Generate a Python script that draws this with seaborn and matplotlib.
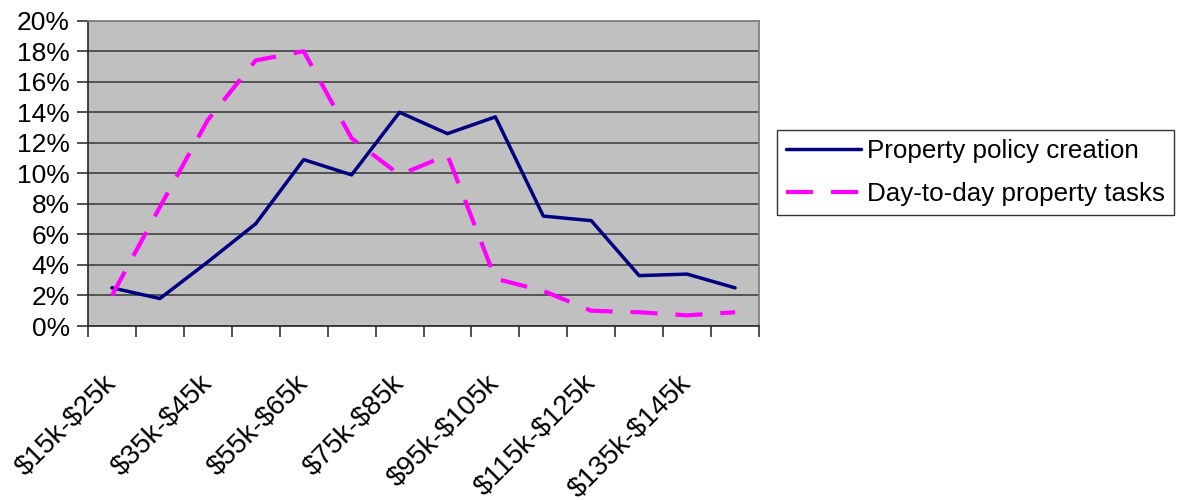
import numpy as np
import pandas as pd
import matplotlib.pyplot as plt
import seaborn as sns

# salary bands (x axis)
categories = [
    "$15k-$25k", "$25k-$35k", "$35k-$45k", "$45k-$55k", "$55k-$65k",
    "$65k-$75k", "$75k-$85k", "$85k-$95k", "$95k-$105k", "$105k-$115k",
    "$115k-$125k", "$125k-$135k", "$135k-$145k", "$145k-$155k",
]

# share of respondents, in percent
policy_creation = [2.5, 1.8, 4.2, 6.7, 10.9, 9.9, 14.0, 12.6, 13.7, 7.2, 6.9, 3.3, 3.4, 2.5]
daily_tasks = [2.0, 7.8, 13.5, 17.4, 18.0, 12.3, 9.9, 11.2, 3.1, 2.3, 1.0, 0.9, 0.7, 0.9]

series_names = ["Property policy creation", "Day-to-day property tasks"]

# long format for seaborn
df = pd.DataFrame({
    "band": categories * 2,
    "share": policy_creation + daily_tasks,
    "series": [series_names[0]] * len(categories) + [series_names[1]] * len(categories),
})

sns.set_style("white")
plt.rcParams["font.family"] = ["Liberation Sans", "DejaVu Sans"]
plt.rcParams["text.color"] = "black"

fig = plt.figure(figsize=(11.79, 5.0), dpi=100)
ax = fig.add_axes([88 / 1179, 1 - 326 / 500, (759 - 88) / 1179, (326 - 20.7) / 500])
ax.set_facecolor("#c0c0c0")

sns.lineplot(
    data=df,
    x="band",
    y="share",
    hue="series",
    style="series",
    palette={series_names[0]: "#000080", series_names[1]: "#ff00ff"},
    dashes={series_names[0]: "", series_names[1]: (6.5, 4.3)},
    sort=False,
    ax=ax,
)
ax.lines[0].set_linewidth(2.5)
ax.lines[1].set_linewidth(3.0)

# y axis
ax.set_ylim(0, 20)
ax.set_yticks(np.arange(0, 21, 2))
ax.set_yticklabels([f"{v}%" for v in range(0, 21, 2)], fontsize=19)
ax.yaxis.grid(True, color="#4a4a4a", linewidth=1.3)
ax.set_axisbelow(True)

# x axis: ticks at band boundaries, every other band labelled
n = len(categories)
ax.set_xlim(-0.5, n - 0.5)
ax.set_xticks(np.arange(-0.5, n, 1.0))
ax.set_xticklabels([])
labels = [c.replace("$", r"\$") for c in categories[::2]]
ax.set_xticks(np.arange(0, n, 2), minor=True)
ax.set_xticklabels(labels, minor=True, rotation=45, ha="right", va="center",
                   rotation_mode="anchor", fontsize=20)
ax.tick_params(axis="x", which="minor", length=0, pad=38, bottom=True)
ax.tick_params(axis="both", which="both", labelcolor="black")
ax.tick_params(axis="both", which="major", length=8, width=1.2, color="#333333",
               direction="out", bottom=True, left=True)
ax.tick_params(axis="y", pad=5)

ax.set_xlabel("")
ax.set_ylabel("")

for side in ["left", "bottom"]:
    ax.spines[side].set_color("#333333")
    ax.spines[side].set_linewidth(1.3)
for side in ["top", "right"]:
    ax.spines[side].set_color("#808080")
    ax.spines[side].set_linewidth(1.3)

# legend outside on the right
handles, lbls = ax.get_legend_handles_labels()
ax.get_legend().remove()
leg = fig.legend(
    handles, lbls,
    loc="center left",
    bbox_to_anchor=(777 / 1179, 1 - 172.5 / 500),
    bbox_transform=fig.transFigure,
    fontsize=18.7,
    frameon=True,
    fancybox=False,
    edgecolor="black",
    handlelength=2.87,
    handletextpad=0.23,
    borderpad=0.35,
    labelspacing=0.75,
    borderaxespad=0,
    labelcolor="black",
)
leg.get_frame().set_linewidth(1.0)
leg.legend_handles[0].set_linewidth(2.5)
leg.legend_handles[1].set_linewidth(3.0)

fig.savefig("out.png", dpi=100)
